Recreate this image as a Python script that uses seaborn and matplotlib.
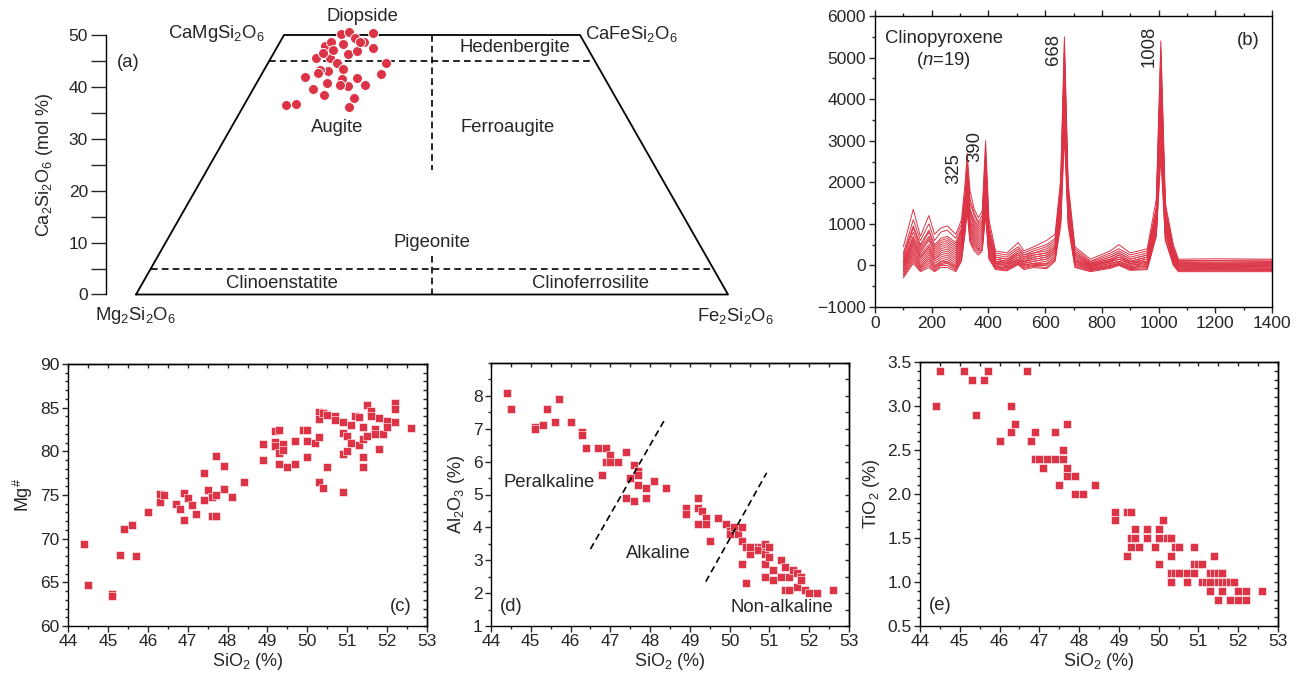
import matplotlib
matplotlib.use("Agg")
import matplotlib.pyplot as plt
from matplotlib.ticker import MultipleLocator, FixedLocator
import pandas as pd
import seaborn as sns

RED = "#DC3446"

# (a) pyroxene quadrilateral: Wo (Ca2Si2O6) and Fs (Fe2Si2O6) in mol %
WO_A = [36.6, 36.8, 42.0, 39.5, 38.5, 45.5, 47.8, 48.6, 50.1, 50.5, 50.3, 48.2,
        46.4, 47.0, 48.7, 47.4, 44.7, 42.4, 40.4, 41.8, 40.1, 37.9, 36.2, 41.6,
        40.4, 40.8, 43.1, 43.3, 42.6, 45.5, 44.7, 43.5, 46.6, 47.2, 49.5, 48.7]
FS_A = [7.0, 8.6, 7.5, 10.2, 12.5, 7.6, 8.0, 8.6, 9.5, 10.8, 14.9, 10.9,
        12.6, 13.8, 14.2, 16.3, 19.9, 20.2, 18.5, 16.4, 15.8, 17.8, 17.9, 14.0,
        14.3, 11.9, 10.9, 9.5, 9.4, 10.1, 11.6, 13.2, 8.3, 9.7, 12.2, 13.5]

# (b) Raman spectra, 19 clinopyroxene grains
RAMAN_SHIFT = [100, 135, 160, 190, 210, 232, 255, 285, 305, 318,
               325, 335, 350, 365, 378, 390, 402, 425, 465, 505,
               525, 560, 605, 635, 655, 668, 681, 705, 760, 830,
               860, 900, 960, 992, 1008, 1024, 1052, 1070, 1200, 1400]
SPECTRA = [
    [450, 1350, 700, 1200, 750, 900, 950, 750, 1100, 2000, 2700, 1800, 1350, 1150, 1300, 3000, 1100, 350, 300, 550,
     350, 450, 600, 750, 2100, 5500, 2000, 450, 150, 350, 500, 300, 400, 1600, 5400, 1500, 500, 150, 160, 150],
    [300, 1100, 600, 1000, 600, 800, 850, 650, 1000, 1800, 2500, 1600, 1250, 1050, 1200, 2700, 950, 300, 250, 450,
     300, 400, 500, 650, 1800, 4900, 1700, 400, 100, 300, 400, 250, 350, 1350, 4600, 1300, 450, 120, 120, 130],
    [250, 950, 500, 850, 500, 650, 700, 550, 900, 1700, 2400, 1500, 1200, 1000, 1100, 2500, 850, 250, 200, 400,
     250, 350, 450, 600, 1850, 5100, 1800, 350, 80, 250, 350, 200, 300, 1400, 5200, 1400, 400, 100, 110, 100],
    [200, 900, 450, 800, 450, 600, 650, 500, 850, 1600, 2300, 1350, 1100, 950, 1050, 2800, 800, 200, 150, 350,
     250, 300, 400, 550, 1900, 5300, 1850, 300, 50, 200, 300, 150, 250, 1300, 4800, 1250, 350, 80, 80, 90],
    [150, 800, 400, 700, 400, 550, 600, 450, 800, 1550, 2200, 1300, 1050, 900, 1000, 2300, 750, 200, 150, 300,
     200, 300, 350, 500, 1700, 4700, 1650, 300, 50, 200, 300, 150, 250, 1250, 4500, 1200, 350, 70, 60, 70],
    [100, 700, 350, 650, 350, 500, 550, 400, 750, 1500, 2100, 1250, 1000, 850, 950, 2600, 700, 150, 100, 300,
     200, 250, 300, 450, 1750, 5000, 1700, 250, 30, 150, 250, 100, 200, 1300, 5000, 1300, 300, 50, 50, 50],
    [80, 650, 300, 600, 300, 450, 500, 350, 700, 1400, 2000, 1200, 950, 800, 900, 2100, 650, 150, 100, 250,
     150, 250, 300, 450, 1600, 4500, 1550, 250, 20, 150, 250, 100, 200, 1200, 4400, 1150, 300, 40, 30, 40],
    [50, 600, 250, 500, 250, 400, 450, 300, 650, 1350, 1900, 1100, 900, 750, 850, 2000, 600, 100, 80, 250,
     150, 200, 250, 400, 1650, 4800, 1600, 200, 0, 120, 200, 80, 150, 1150, 4300, 1100, 250, 20, 20, 20],
    [20, 550, 200, 450, 200, 350, 400, 250, 600, 1300, 1850, 1050, 850, 700, 800, 2200, 550, 100, 50, 200,
     100, 200, 250, 400, 1500, 4300, 1450, 200, 0, 100, 200, 50, 150, 1250, 4700, 1200, 250, 0, 0, 0],
    [0, 500, 200, 400, 150, 300, 350, 200, 550, 1250, 1800, 1000, 800, 650, 750, 1850, 500, 80, 50, 200,
     100, 150, 200, 350, 1400, 4100, 1400, 150, -20, 100, 150, 50, 100, 1050, 4000, 1000, 200, -10, -10, -10],
    [-30, 450, 150, 350, 150, 250, 300, 150, 500, 1200, 1750, 950, 750, 600, 700, 1800, 450, 50, 30, 150,
     80, 150, 200, 350, 1550, 4600, 1500, 150, -30, 80, 150, 30, 100, 1000, 3800, 950, 200, -20, -20, -30],
    [-60, 400, 100, 300, 100, 200, 250, 100, 450, 1150, 1700, 900, 700, 550, 650, 1900, 400, 50, 0, 150,
     50, 100, 150, 300, 1300, 3900, 1300, 120, -50, 50, 100, 0, 80, 1100, 4200, 1050, 150, -40, -40, -40],
    [-100, 350, 50, 250, 50, 150, 200, 50, 400, 1100, 1650, 850, 650, 500, 600, 1650, 350, 30, 0, 120,
     50, 100, 150, 300, 1400, 4200, 1350, 100, -60, 50, 100, 0, 50, 900, 3600, 850, 150, -50, -50, -60],
    [-130, 300, 0, 200, 0, 100, 150, 0, 350, 1050, 1600, 800, 600, 450, 550, 1600, 300, 0, -30, 100,
     20, 50, 100, 250, 1200, 3700, 1200, 80, -80, 20, 80, -30, 30, 950, 3900, 900, 100, -70, -70, -70],
    [-160, 250, -30, 150, -30, 80, 100, -30, 300, 1000, 1550, 750, 550, 400, 500, 1550, 250, -20, -50, 80,
     0, 50, 50, 200, 1250, 4000, 1250, 50, -90, 0, 50, -50, 0, 800, 3300, 750, 100, -90, -80, -90],
    [-200, 200, -60, 100, -60, 50, 80, -60, 250, 950, 1500, 700, 500, 380, 450, 1450, 250, -40, -70, 60,
     -20, 20, 30, 200, 1100, 3500, 1100, 30, -100, -20, 50, -60, -20, 850, 3500, 800, 80, -100, -100, -100],
    [-230, 150, -90, 50, -100, 20, 50, -90, 200, 900, 1450, 650, 450, 350, 400, 1400, 200, -60, -90, 50,
     -50, 0, 0, 150, 1050, 3400, 1050, 0, -120, -30, 30, -80, -50, 750, 3000, 650, 50, -120, -110, -120],
    [-260, 100, -120, 0, -130, 0, 0, -120, 150, 850, 1400, 600, 400, 300, 380, 1300, 180, -80, -110, 30,
     -70, -20, -50, 120, 1150, 3800, 1150, -30, -130, -50, 20, -100, -80, 720, 2800, 620, 30, -130, -130, -130],
    [-300, 50, -150, -50, -150, -50, -50, -150, 100, 800, 1300, 550, 350, 250, 350, 1200, 150, -100, -130, 20,
     -100, -50, -80, 100, 950, 3100, 950, -50, -150, -70, 0, -120, -100, 700, 2600, 600, 0, -150, -150, -150],
]
PEAK_LABELS = ["325", "390", "668", "1008"]
PEAK_POS = [(279, 2320), (353, 2870), (628, 5200), (966, 5280)]

# (c) SiO2 vs Mg#
SIO2_C = [44.4, 44.5, 45.1, 45.1, 45.3, 45.4, 45.6, 45.7, 46.0, 46.3, 46.3, 46.4, 46.7, 46.8, 46.9, 46.9,
          47.0, 47.1, 47.2, 47.4, 47.4, 47.5, 47.6, 47.7, 47.6, 47.7, 47.7, 47.9, 47.9, 48.1, 48.4, 48.9,
          48.9, 49.2, 49.3, 49.2, 49.2, 49.3, 49.3, 49.4, 49.4, 49.5, 49.7, 49.7, 49.9, 50.0, 50.0, 50.0,
          50.2, 50.3, 50.3, 50.3, 50.4, 50.5, 50.3, 50.4, 50.5, 50.7, 50.7, 50.9, 50.9, 51.0, 50.9, 51.0,
          50.9, 51.1, 51.1, 51.2, 51.3, 51.3, 51.4, 51.4, 51.4, 51.4, 51.5, 51.5, 51.6, 51.6, 51.7, 51.7,
          51.8, 51.8, 51.9, 52.0, 52.0, 52.2, 52.2, 52.2, 52.6]
MG_C = [69.4, 64.7, 63.7, 63.4, 68.1, 71.1, 71.6, 68.0, 73.0, 75.1, 74.2, 75.0, 74.0, 73.4, 75.2, 72.1,
        74.6, 73.8, 72.8, 77.5, 74.4, 75.6, 72.6, 72.6, 74.8, 75.0, 79.5, 78.3, 75.7, 74.8, 76.5, 80.8,
        79.0, 82.3, 82.4, 81.1, 80.6, 79.8, 78.5, 80.8, 80.2, 78.2, 81.2, 78.5, 82.5, 82.5, 81.2, 79.4,
        80.9, 81.6, 84.5, 83.7, 84.4, 84.2, 76.5, 75.8, 78.2, 84.0, 83.6, 83.4, 82.1, 81.8, 79.7, 80.0,
        75.4, 83.0, 81.0, 84.0, 83.9, 80.7, 82.8, 81.4, 79.3, 78.2, 85.3, 81.8, 84.6, 84.0, 82.6, 82.0,
        83.8, 80.3, 82.0, 83.5, 82.8, 85.5, 84.8, 83.4, 82.7]

# (d) SiO2 vs Al2O3
SIO2_D = [44.4, 44.5, 45.1, 45.1, 45.3, 45.4, 45.6, 45.7, 46.0, 46.3, 46.3, 46.4, 46.7, 46.9, 46.8, 46.9,
          47.0, 47.0, 47.2, 47.4, 47.4, 47.5, 47.6, 47.6, 47.7, 47.7, 47.7, 47.9, 47.9, 48.1, 48.4, 48.9,
          48.9, 49.2, 49.2, 49.2, 49.3, 49.4, 49.4, 49.5, 49.7, 49.9, 50.0, 50.0, 50.1, 50.2, 50.3, 50.3,
          50.3, 50.4, 50.4, 50.5, 50.5, 50.7, 50.8, 50.7, 50.9, 50.9, 50.9, 50.9, 51.0, 51.0, 51.1, 51.1,
          51.3, 51.3, 51.4, 51.4, 51.5, 51.5, 51.6, 51.7, 51.7, 51.8, 51.8, 51.9, 52.0, 52.2, 52.6]
AL2O3_D = [8.1, 7.6, 7.06, 7.0, 7.1, 7.6, 7.2, 7.9, 7.2, 6.9, 6.8, 6.4, 6.4, 6.4, 5.6, 6.0,
           6.2, 6.0, 6.0, 6.3, 4.9, 5.5, 5.9, 4.8, 5.7, 5.6, 5.3, 5.2, 4.9, 5.4, 5.2, 4.6,
           4.4, 4.9, 4.6, 4.1, 4.5, 4.3, 4.1, 3.6, 4.3, 4.1, 3.9, 3.8, 4.0, 3.8, 4.0, 3.6,
           2.9, 2.3, 3.4, 3.2, 3.4, 3.4, 3.4, 3.3, 3.5, 3.2, 2.9, 2.5, 3.4, 3.1, 2.7, 2.4,
           3.0, 2.5, 2.8, 2.1, 2.1, 2.5, 2.7, 2.6, 2.2, 2.5, 2.4, 2.1, 2.0, 2.0, 2.1]
DIVIDERS_D = [((46.5, 48.35), (3.34, 7.24)), ((49.4, 50.93), (2.35, 5.66))]

# (e) SiO2 vs TiO2
SIO2_E = [44.4, 44.5, 45.1, 45.3, 45.4, 45.6, 45.7, 46.0, 46.3, 46.3, 46.4, 46.7, 46.8, 46.9, 46.9, 47.0,
          47.1, 47.2, 47.4, 47.4, 47.5, 47.6, 47.6, 47.7, 47.7, 47.7, 47.9, 47.9, 48.1, 48.4, 48.9, 48.9,
          49.2, 49.3, 49.2, 49.3, 49.4, 49.4, 49.3, 49.5, 49.7, 49.7, 49.9, 50.0, 50.0, 50.0, 50.1, 50.2,
          50.3, 50.3, 50.3, 50.4, 50.5, 50.3, 50.4, 50.5, 50.7, 50.7, 50.9, 50.9, 51.0, 51.1, 50.9, 51.1,
          51.2, 51.3, 51.3, 51.4, 51.5, 51.6, 51.4, 51.3, 51.5, 51.5, 51.6, 51.7, 51.8, 51.9, 51.6, 51.8,
          52.0, 52.2, 52.0, 52.2, 52.6]
TIO2_E = [3.0, 3.4, 3.4, 3.3, 2.9, 3.3, 3.4, 2.6, 3.0, 2.7, 2.8, 3.4, 2.6, 2.7, 2.4, 2.4,
          2.3, 2.4, 2.7, 2.4, 2.1, 2.5, 2.4, 2.3, 2.8, 2.2, 2.2, 2.0, 2.0, 2.1, 1.8, 1.7,
          1.8, 1.8, 1.3, 1.5, 1.5, 1.6, 1.4, 1.4, 1.6, 1.5, 1.4, 1.6, 1.5, 1.2, 1.7, 1.5,
          1.5, 1.3, 1.1, 1.1, 1.1, 1.0, 1.4, 1.4, 1.1, 1.0, 1.4, 1.2, 1.2, 1.2, 1.1, 1.0,
          1.0, 1.0, 1.1, 1.1, 1.1, 1.1, 1.3, 0.9, 0.8, 1.0, 1.0, 1.0, 1.0, 1.0, 0.9, 0.8,
          0.9, 0.9, 0.8, 0.8, 0.9]

sns.set_theme(style="ticks")
plt.rcParams["font.family"] = ["Liberation Sans", "DejaVu Sans"]
plt.rcParams["mathtext.fontset"] = "custom"
plt.rcParams["mathtext.rm"] = "Liberation Sans"
plt.rcParams["mathtext.it"] = "Liberation Sans:italic"
plt.rcParams["mathtext.bf"] = "Liberation Sans:bold"
plt.rcParams["axes.linewidth"] = 1.0
plt.rcParams["axes.edgecolor"] = "black"

TXT = 13.3
TICK = 12.5
LAB = 13

W, H = 1303, 676


def box(x0, y0, x1, y1):
    return [x0 / W, 1 - y1 / H, (x1 - x0) / W, (y1 - y0) / H]


fig = plt.figure(figsize=(13.03, 6.76), dpi=100)

# ---------- (a) quadrilateral ----------
ax = fig.add_axes(box(106, 35, 760, 294.5))
xa = [f + w / 2 for f, w in zip(FS_A, WO_A)]
ax.plot([0, 25, 75, 100, 0], [0, 50, 50, 0, 0], color="black", lw=1.3, clip_on=False)
dash = (0, (4, 2.5))
ax.plot([22.5, 77.5], [45, 45], color="black", lw=1.2, ls=dash)
ax.plot([2.5, 97.5], [5, 5], color="black", lw=1.2, ls=dash)
ax.plot([50, 50], [50, 24], color="black", lw=1.2, ls=dash)
ax.plot([50, 50], [7.5, 0], color="black", lw=1.2, ls=dash)
sns.scatterplot(x=xa, y=WO_A, ax=ax, color=RED, s=52, edgecolor="white",
                linewidth=0.7, clip_on=False, zorder=3)
ax.set_xlim(-5.07, 105.4)
ax.set_ylim(0, 50)
for s in ["top", "right", "bottom"]:
    ax.spines[s].set_visible(False)
ax.set_xticks([])
ax.yaxis.set_major_locator(MultipleLocator(10))
ax.yaxis.set_minor_locator(MultipleLocator(5))
ax.tick_params(axis="y", which="both", direction="out", length=11, width=1, labelsize=TICK, pad=2)
ax.set_ylabel(r"Ca$_2$Si$_2$O$_6$ (mol %)", fontsize=LAB, labelpad=10)
ax.text(38.2, 53.6, "Diopside", fontsize=TXT, ha="center", va="center")
ax.text(21.8, 50.3, r"CaMgSi$_2$O$_6$", fontsize=TXT, ha="right", va="center")
ax.text(75.8, 50.1, r"CaFeSi$_2$O$_6$", fontsize=TXT, ha="left", va="center")
ax.text(64.0, 47.6, "Hedenbergite", fontsize=TXT, ha="center", va="center")
ax.text(34.0, 32.1, "Augite", fontsize=TXT, ha="center", va="center")
ax.text(62.7, 32.1, "Ferroaugite", fontsize=TXT, ha="center", va="center")
ax.text(50.0, 10.1, "Pigeonite", fontsize=TXT, ha="center", va="center")
ax.text(24.7, 2.2, "Clinoenstatite", fontsize=TXT, ha="center", va="center")
ax.text(76.7, 2.2, "Clinoferrosilite", fontsize=TXT, ha="center", va="center")
ax.text(0.0, -4.0, r"Mg$_2$Si$_2$O$_6$", fontsize=TXT, ha="center", va="center", clip_on=False)
ax.text(101.2, -4.2, r"Fe$_2$Si$_2$O$_6$", fontsize=TXT, ha="center", va="center", clip_on=False)
ax.text(-1.35, 44.7, "(a)", fontsize=TXT, ha="center", va="center")

# ---------- (b) Raman spectra ----------
ax = fig.add_axes(box(875, 16, 1272, 307))
rows = []
for i, spec in enumerate(SPECTRA):
    for x, y in zip(RAMAN_SHIFT, spec):
        rows.append((i, x, y))
spec_df = pd.DataFrame(rows, columns=["spectrum", "shift", "intensity"])
sns.lineplot(data=spec_df, x="shift", y="intensity", units="spectrum", estimator=None,
             color=RED, linewidth=0.7, ax=ax, legend=False)
ax.set_xlim(0, 1400)
ax.set_ylim(-1000, 6000)
ax.xaxis.set_major_locator(MultipleLocator(200))
ax.xaxis.set_minor_locator(MultipleLocator(100))
ax.yaxis.set_major_locator(MultipleLocator(1000))
ax.yaxis.set_minor_locator(MultipleLocator(500))
ax.tick_params(which="major", direction="out", length=4.5, width=1, labelsize=TICK, top=True, pad=2)
ax.tick_params(which="minor", direction="out", length=2.5, width=1, top=True)
ax.set_xlabel("")
ax.set_ylabel("")
ax.text(242, 5450, "Clinopyroxene", fontsize=TXT, ha="center", va="center")
ax.text(243, 4940, r"($n$=19)", fontsize=TXT, ha="center", va="center")
ax.text(1315, 5400, "(b)", fontsize=TXT, ha="center", va="center")
for lab, (px, py) in zip(PEAK_LABELS, PEAK_POS):
    ax.text(px, py, lab, fontsize=TXT, rotation=90, ha="center", va="center")


# ---------- (c)-(e) scatter panels ----------
def style_scatter(ax, ylim, yminor, ylabel, labelpad):
    ax.set_xlim(44, 53)
    ax.set_ylim(*ylim)
    ax.xaxis.set_major_locator(MultipleLocator(1))
    ax.xaxis.set_minor_locator(MultipleLocator(0.5))
    ax.yaxis.set_minor_locator(MultipleLocator(yminor))
    ax.tick_params(which="major", direction="out", length=4, width=1, labelsize=TICK, pad=2)
    ax.tick_params(which="minor", direction="out", length=2, width=1)
    ax.set_xlabel(r"SiO$_2$ (%)", fontsize=LAB, labelpad=1)
    ax.set_ylabel(ylabel, fontsize=LAB, labelpad=labelpad)
    top = ax.secondary_xaxis("top")
    top.xaxis.set_major_locator(MultipleLocator(0.5))
    top.tick_params(axis="x", direction="in", length=3, width=1, labeltop=False)
    right = ax.secondary_yaxis("right")
    right.yaxis.set_major_locator(MultipleLocator(yminor))
    right.tick_params(axis="y", direction="in", length=3, width=1, labelright=False)


ax = fig.add_axes(box(68, 364, 427, 626))
sns.scatterplot(x=SIO2_C, y=MG_C, ax=ax, marker="s", s=34, color=RED,
                edgecolor="white", linewidth=0.4)
ax.yaxis.set_major_locator(MultipleLocator(5))
style_scatter(ax, (60, 90), 1, r"Mg$^{\#}$", 4)
ax.text(52.35, 62.2, "(c)", fontsize=TXT, ha="center", va="center")

ax = fig.add_axes(box(491, 363, 849, 626))
sns.scatterplot(x=SIO2_D, y=AL2O3_D, ax=ax, marker="s", s=34, color=RED,
                edgecolor="white", linewidth=0.4)
for xs, ys in DIVIDERS_D:
    ax.plot(xs, ys, color="black", lw=1.2, ls=dash)
ax.yaxis.set_major_locator(FixedLocator([1, 2, 3, 4, 5, 6, 7, 8]))
style_scatter(ax, (1, 9), 0.5, r"Al$_2$O$_3$ (%)", 4)
ax.text(45.45, 5.35, "Peralkaline", fontsize=TXT, ha="center", va="center")
ax.text(48.2, 3.2, "Alkaline", fontsize=TXT, ha="center", va="center")
ax.text(51.3, 1.56, "Non-alkaline", fontsize=TXT, ha="center", va="center")
ax.text(44.5, 1.6, "(d)", fontsize=TXT, ha="center", va="center")

ax = fig.add_axes(box(920, 362, 1278, 626))
sns.scatterplot(x=SIO2_E, y=TIO2_E, ax=ax, marker="s", s=34, color=RED,
                edgecolor="white", linewidth=0.4)
ax.yaxis.set_major_locator(MultipleLocator(0.5))
style_scatter(ax, (0.5, 3.5), 0.1, r"TiO$_2$ (%)", 4)
ax.text(44.5, 0.73, "(e)", fontsize=TXT, ha="center", va="center")

fig.savefig("out.png", dpi=100)
